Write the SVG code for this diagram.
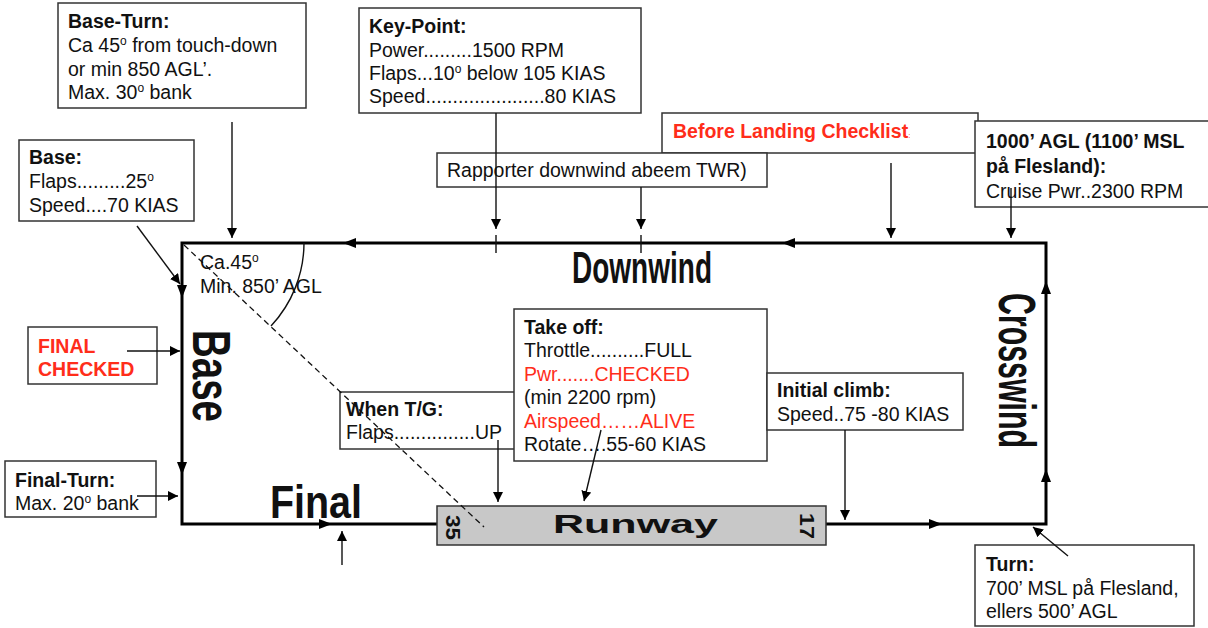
<svg xmlns="http://www.w3.org/2000/svg" width="1208" height="628" viewBox="0 0 1208 628">
<defs>
<style>
text{font-family:"Liberation Sans",Arial,sans-serif;fill:#111;}
.t{font-size:19.5px;}
.b{font-weight:bold;}
.red{fill:#ff2d1a;}
.box{fill:#fff;stroke:#333;stroke-width:1.5;}
.leg{fill:none;stroke:#000;stroke-width:3;}
.con{fill:none;stroke:#111;stroke-width:1.4;}
.arr{marker-end:url(#ah);}
.big{font-weight:bold;}
.sup{font-size:12px;}
</style>
<marker id="ah" markerUnits="userSpaceOnUse" markerWidth="11" markerHeight="10" refX="10" refY="5" orient="auto" viewBox="0 0 11 10">
<path d="M0,0 L10,5 L0,10 z" fill="#000"/>
</marker>
</defs>
<rect width="1208" height="628" fill="#fff"/>

<g id="pattern">
<path class="leg" d="M437,524 H182 V243 H1046 V524 H826"/>
<polygon points="343,243 356,238 356,248"/>
<polygon points="782,243 795,238 795,248"/>
<polygon points="182,298 177,285 187,285"/>
<polygon points="182,475 177,462 187,462"/>
<polygon points="332,524 319,519 319,529"/>
<polygon points="942,524 929,519 929,529"/>
<polygon points="1046,281 1041,294 1051,294"/>
<polygon points="1046,469 1041,482 1051,482"/>
<path d="M304,243 A122,122 0 0 1 271,326" fill="none" stroke="#111" stroke-width="1.4"/>
<text class="t" x="200" y="269">Ca.45<tspan class="sup" baseline-shift="super">o</tspan></text>
<text class="t" x="200" y="293">Min. 850’ AGL</text>
<text class="big" x="572" y="283" font-size="45" textLength="140" lengthAdjust="spacingAndGlyphs">Downwind</text>
<text class="big" x="270" y="518" font-size="46" textLength="92" lengthAdjust="spacingAndGlyphs">Final</text>
<text class="big" font-size="54" transform="translate(193,330) rotate(90)" textLength="92" lengthAdjust="spacingAndGlyphs">Base</text>
<text class="big" font-size="52" transform="translate(999,293) rotate(90)" textLength="155" lengthAdjust="spacingAndGlyphs">Crosswind</text>
</g>

<g id="runway">
<rect x="437" y="506" width="389" height="39" fill="#c8c8c8" stroke="#333" stroke-width="1.5"/>
<text class="big" x="553" y="533" font-size="25" textLength="165" lengthAdjust="spacingAndGlyphs">Runway</text>
<text class="big" font-size="21" transform="translate(446,515) rotate(90)" textLength="25" lengthAdjust="spacingAndGlyphs">35</text>
<text class="big" font-size="21" transform="translate(800,513) rotate(90)" textLength="26" lengthAdjust="spacingAndGlyphs">17</text>
</g>

<g id="base-turn">
<rect class="box" x="58" y="3" width="248" height="105"/>
<text class="t b" x="68" y="28">Base-Turn:</text>
<text class="t" x="68" y="52">Ca 45<tspan class="sup" baseline-shift="super">o</tspan> from touch-down</text>
<text class="t" x="68" y="76">or min 850 AGL’.</text>
<text class="t" x="68" y="99">Max. 30<tspan class="sup" baseline-shift="super">o</tspan> bank</text>
</g>

<g id="key-point">
<rect class="box" x="359" y="8" width="282" height="105"/>
<text class="t b" x="369" y="33">Key-Point:</text>
<text class="t" x="369" y="57">Power.........1500 RPM</text>
<text class="t" x="369" y="80">Flaps...10<tspan class="sup" baseline-shift="super">o</tspan> below 105 KIAS</text>
<text class="t" x="369" y="103">Speed......................80 KIAS</text>
</g>

<g id="before-landing">
<rect class="box" x="662" y="113" width="316" height="40"/>
<text class="t b red" x="673" y="138">Before Landing Checklist<tspan font-size="8" font-weight="normal">:</tspan></text>
</g>

<g id="rapporter">
<rect class="box" x="437" y="153" width="330" height="34"/>
<text class="t" x="447" y="177">Rapporter downwind abeem TWR)</text>
</g>

<g id="agl1000">
<rect class="box" x="975" y="121" width="240" height="86"/>
<text class="t b" x="986" y="148">1000’ AGL (1100’ MSL</text>
<text class="t b" x="986" y="173">på Flesland):</text>
<text class="t" x="986" y="198">Cruise Pwr..2300 RPM</text>
</g>

<g id="base">
<rect class="box" x="19" y="140" width="175" height="81"/>
<text class="t b" x="29" y="164">Base:</text>
<text class="t" x="29" y="188">Flaps.........25<tspan class="sup" baseline-shift="super">o</tspan></text>
<text class="t" x="29" y="212">Speed....70 KIAS</text>
</g>

<g id="final-checked">
<rect class="box" x="28" y="327" width="129" height="57"/>
<text class="t b red" x="38" y="353">FINAL</text>
<text class="t b red" x="38" y="376">CHECKED</text>
</g>

<g id="final-turn">
<rect class="box" x="5" y="461" width="151" height="56"/>
<text class="t b" x="15" y="487">Final-Turn:</text>
<text class="t" x="15" y="510">Max. 20<tspan class="sup" baseline-shift="super">o</tspan> bank</text>
</g>

<g id="when-tg">
<rect class="box" x="340" y="392" width="175" height="57"/>
<text class="t b" x="346" y="416">When T/G:</text>
<text class="t" x="346" y="439">Flaps...............UP</text>
</g>

<g id="take-off">
<rect class="box" x="514" y="309" width="253" height="152"/>
<text class="t b" x="524" y="334">Take off:</text>
<text class="t" x="524" y="357">Throttle..........FULL</text>
<text class="t red" x="524" y="381">Pwr.......CHECKED</text>
<text class="t" x="524" y="404">(min 2200 rpm)</text>
<text class="t red" x="524" y="428">Airspeed……ALIVE</text>
<text class="t" x="524" y="451">Rotate….55-60 KIAS</text>
</g>

<g id="initial-climb">
<rect class="box" x="767" y="373" width="196" height="57"/>
<text class="t b" x="777" y="397">Initial climb:</text>
<text class="t" x="777" y="421">Speed..75 -80 KIAS</text>
</g>

<g id="turn">
<rect class="box" x="975" y="545" width="219" height="81"/>
<text class="t b" x="986" y="571">Turn:</text>
<text class="t" x="986" y="595">700’ MSL på Flesland,</text>
<text class="t" x="986" y="618">ellers 500’ AGL</text>
</g>

<g id="connectors">
<line class="con arr" x1="232" y1="122" x2="232" y2="238"/>
<line class="con arr" x1="137" y1="226" x2="180" y2="284"/>
<line class="con arr" x1="127" y1="351" x2="180" y2="351"/>
<line class="con arr" x1="137" y1="496" x2="178" y2="496"/>
<line class="con arr" x1="342" y1="565" x2="342" y2="531"/>
<line class="con arr" x1="496" y1="113" x2="496" y2="229"/>
<line class="con" x1="496" y1="235" x2="496" y2="253"/>
<line class="con arr" x1="641" y1="187" x2="641" y2="229"/>
<line class="con" x1="641" y1="235" x2="641" y2="253"/>
<line class="con arr" x1="891" y1="163" x2="891" y2="238"/>
<line class="con arr" x1="1011" y1="188" x2="1011" y2="238"/>
<line class="con arr" x1="498" y1="440" x2="498" y2="502"/>
<line class="con arr" x1="601" y1="430" x2="584" y2="501"/>
<line class="con arr" x1="845" y1="430" x2="845" y2="520"/>
<line class="con arr" x1="1068" y1="556" x2="1033" y2="527"/>
<line x1="184" y1="245" x2="484" y2="527" stroke="#111" stroke-width="1.3" stroke-dasharray="6,4"/>
</g>
</svg>
